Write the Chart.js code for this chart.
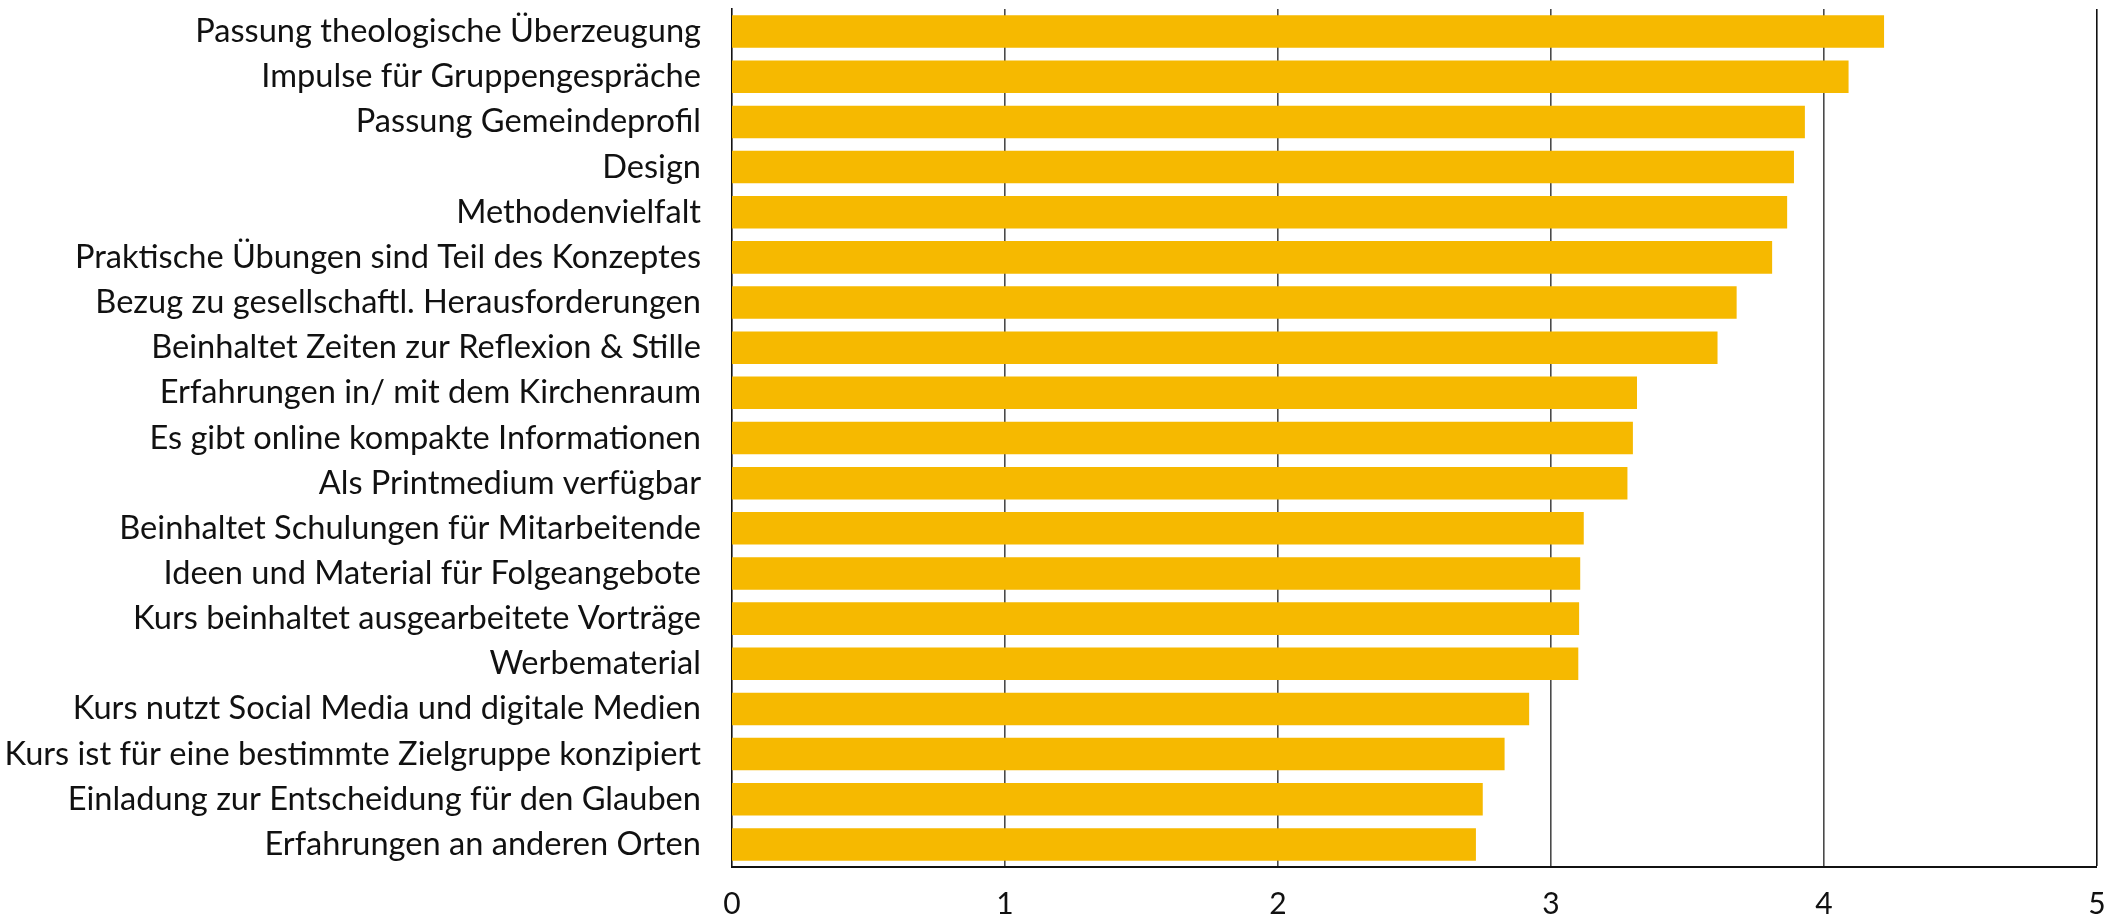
<!DOCTYPE html>
<html>
<head>
<meta charset="utf-8">
<script src="https://cdn.jsdelivr.net/npm/chart.js@4"></script>
<style>
  html, body { margin: 0; padding: 0; background: #fff; overflow: hidden; }
  #wrap { width: 2123px; height: 923px; }
</style>
</head>
<body>
<div id="wrap"><canvas id="kriterienChart"></canvas></div>
<script>
const kriterien = [
  'Passung theologische Überzeugung',
  'Impulse für Gruppengespräche',
  'Passung Gemeindeprofil',
  'Design',
  'Methodenvielfalt',
  'Praktische Übungen sind Teil des Konzeptes',
  'Bezug zu gesellschaftl. Herausforderungen',
  'Beinhaltet Zeiten zur Reflexion & Stille',
  'Erfahrungen in/ mit dem Kirchenraum',
  'Es gibt online kompakte Informationen',
  'Als Printmedium verfügbar',
  'Beinhaltet Schulungen für Mitarbeitende',
  'Ideen und Material für Folgeangebote',
  'Kurs beinhaltet ausgearbeitete Vorträge',
  'Werbematerial',
  'Kurs nutzt Social Media und digitale Medien',
  'Kurs ist für eine bestimmte Zielgruppe konzipiert',
  'Einladung zur Entscheidung für den Glauben',
  'Erfahrungen an anderen Orten'
];
const mittelwerte = [4.22, 4.09, 3.93, 3.89, 3.865, 3.81, 3.68, 3.61, 3.315, 3.30, 3.28, 3.12, 3.107, 3.103, 3.10, 2.92, 2.83, 2.75, 2.725];
const xTicks = [0, 1, 2, 3, 4, 5];

const ctx = document.getElementById('kriterienChart').getContext('2d');
const schrift = "Lato, 'Open Sans', sans-serif";

new Chart(ctx, {
  type: 'bar',
  data: {
    labels: kriterien,
    datasets: [{
      label: 'Mittelwert',
      data: mittelwerte,
      backgroundColor: '#f6b900',
      borderWidth: 0,
      categoryPercentage: 1,
      barPercentage: 0.72
    }]
  },
  options: {
    indexAxis: 'y',
    responsive: true,
    maintainAspectRatio: false,
    animation: false,
    layout: { padding: { top: 9, right: 26, bottom: -18, left: 0 } },
    plugins: {
      legend: { display: false },
      tooltip: { enabled: false }
    },
    scales: {
      x: {
        min: 0,
        max: 5,
        afterBuildTicks: (scale) => { scale.ticks = xTicks.map(v => ({ value: v })); },
        afterFit: (scale) => { scale.paddingLeft = 0; scale.paddingRight = 0; },
        grid: {
          drawTicks: false,
          color: (c) => c.tick && c.tick.value === 5 ? '#111' : '#4a4a4a',
          lineWidth: (c) => c.tick && c.tick.value === 0 ? 0 : 1.6
        },
        border: { display: true, color: '#111', width: 2 },
        ticks: {
          color: '#111',
          padding: 19,
          font: { family: schrift, size: 30, lineHeight: 1.2 }
        }
      },
      y: {
        afterFit: (scale) => {
          scale.width = 732;
          scale.paddingTop = 0;
          scale.paddingBottom = 0;
        },
        grid: { display: false, drawTicks: false },
        border: { display: true, color: '#111', width: 1.6 },
        ticks: {
          color: '#111',
          padding: 31,
          autoSkip: false,
          font: { family: schrift, size: 32.6 }
        }
      }
    }
  }
});
</script>
</body>
</html>
